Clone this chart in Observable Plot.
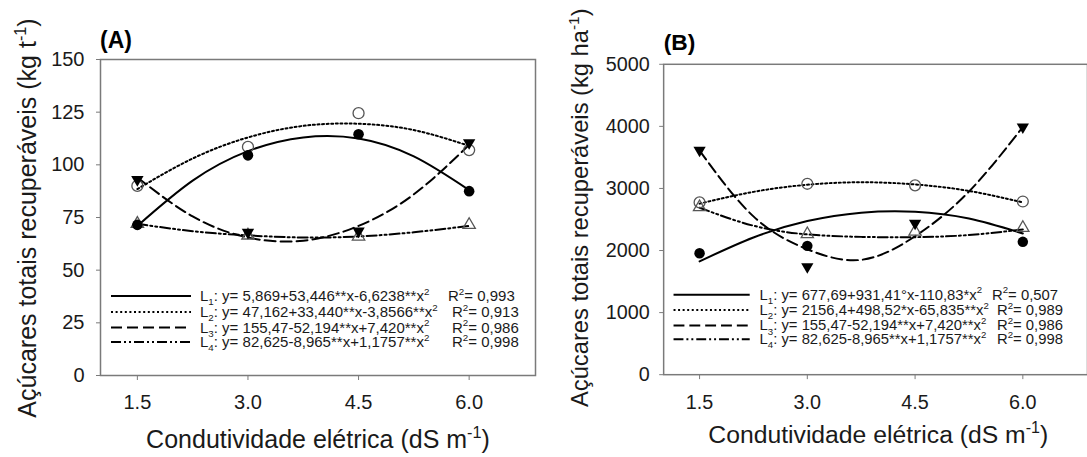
<!DOCTYPE html>
<html>
<head>
<meta charset="utf-8">
<script src="https://cdn.jsdelivr.net/npm/d3@7"></script>
<script src="https://cdn.jsdelivr.net/npm/@observablehq/plot@0.6"></script>
<style>
  html, body { margin: 0; padding: 0; background: #fff; overflow: hidden; }
  #wrap { position: relative; width: 1087px; height: 457px; overflow: hidden; }
  #pa, #pb { position: absolute; top: 0; }
  #pa { left: 0; }
  #pb { left: 540px; }
</style>
</head>
<body>
<div id="wrap"><div id="pa"></div><div id="pb"></div></div>
<script>
// ---------- DATA ----------
const concentrations = [1.5, 3.0, 4.5, 6.0];          // observed x (dS m-1)
const fitX = [1.5, 2.25, 3.0, 3.75, 4.5, 5.25, 6.0];  // x where fitted curves were read
const xTickLabels = ["1.5", "3.0", "4.5", "6.0"];

// Panel A (kg t-1)
const aTicks = [0, 25, 50, 75, 100, 125, 150];
const aL1 = [71.5, 104.5, 114.5, 87.5];
const aL2 = [90, 108.5, 124.5, 107];
const aL3 = [93, 68, 68.5, 110.5];
const aL4 = [72, 66.5, 66, 71.5];
const aFitL1 = [71, 92.5, 106.5, 113, 112.5, 104, 88];
const aFitL2 = [88.5, 103, 113, 118.5, 119.5, 116.5, 109];
const aFitL3 = [94, 75.5, 65.5, 64, 71, 86, 109.5];
const aFitL4 = [72, 68.5, 66.5, 65.5, 66, 68, 71];

// Panel B (kg ha-1)
const bTicks = [0, 1000, 2000, 3000, 4000, 5000];
const bL1 = [1955, 2075, null, 2140];
const bL2 = [2775, 3075, 3050, 2790];
const bL3 = [3615, 1740, 2440, 3990];
const bL4 = [2700, 2265, 2305, 2365];
const bFitL1 = [1825, 2210, 2475, 2610, 2625, 2515, 2275];
const bFitL2 = [2755, 2945, 3060, 3100, 3065, 2960, 2775];
const bFitL3 = [3610, 2550, 2020, 1850, 2230, 2950, 3990];
const bFitL4 = [2690, 2400, 2260, 2220, 2215, 2250, 2340];

// Legend texts
const legendNames = ["1", "2", "3", "4"];
const aEquations = [
  "y= 5,869+53,446**x-6,6238**x",
  "y= 47,162+33,440**x-3,8566**x",
  "y= 155,47-52,194**x+7,420**x",
  "y= 82,625-8,965**x+1,1757**x"
];
const aR2 = ["0,993", "0,913", "0,986", "0,998"];
const bEquations = [
  "y= 677,69+931,41°x-110,83*x",
  "y= 2156,4+498,52*x-65,835**x",
  "y= 155,47-52,194**x+7,420**x",
  "y= 82,625-8,965**x+1,1757**x"
];
const bR2 = ["0,507", "0,989", "0,986", "0,998"];

// ---------- STYLE ----------
const FONT = 'Arial, "Liberation Sans", Helvetica, sans-serif';
const TXT = "#1a1a1a";
const dashes = [null, "2,2.6", "11,5", "10,3,2,3,2,3"];

function rows(xs, ys, series) {
  return xs.map((x, i) => ({x, y: ys[i], s: series})).filter(d => d.y != null);
}

function rich(g, x, y, segs, size, extra = {}) {
  const t = g.append("text").attr("x", x).attr("y", y)
    .attr("font-size", size).attr("font-family", FONT).attr("fill", TXT)
    .attr("text-anchor", "start");
  for (const k in extra) t.attr(k, extra[k]);
  let shift = 0;
  for (const [s, kind] of segs) {
    const target = kind === "sup" ? -0.42 * size : kind === "sub" ? 0.28 * size : 0;
    t.append("tspan").attr("dy", target - shift)
      .attr("font-size", kind ? size * 0.65 : size).text(s);
    shift = target;
  }
  return t;
}

function panel(cfg) {
  const obs = cfg.obs, fits = cfg.fits;
  const marks = [
    Plot.frame({stroke: "#7a7a7a", strokeWidth: 1.5}),
    Plot.axisY({ticks: cfg.yTicks, tickSize: 4, tickPadding: cfg.yPad, stroke: "#7a7a7a",
      fill: TXT, fontSize: 20, label: null, tickFormat: d => String(d)}),
    Plot.axisX({ticks: concentrations, tickSize: 5, tickPadding: cfg.xPad, stroke: "#7a7a7a",
      fill: TXT, fontSize: 20, label: null, tickFormat: (d, i) => xTickLabels[i]})
  ];
  fits.forEach((f, k) => {
    marks.push(Plot.line(rows(fitX, f, k), {x: "x", y: "y", curve: "natural",
      stroke: "black", strokeWidth: 2, strokeDasharray: dashes[k]}));
  });
  // open symbols first (L2 circles, L4 triangles), then filled (L1 circles, L3 down-triangles)
  marks.push(Plot.dot(rows(concentrations, obs[1], 1), {x: "x", y: "y", r: 5.5, symbol: "circle",
    fill: "none", stroke: "#555", strokeWidth: 1.3}));
  marks.push(Plot.dot(rows(concentrations, obs[3], 3), {x: "x", y: "y", r: 4.6, symbol: "triangle",
    fill: "none", stroke: "#555", strokeWidth: 1.3}));
  marks.push(Plot.dot(rows(concentrations, obs[0], 0), {x: "x", y: "y", r: 5.3, symbol: "circle",
    fill: "black", stroke: "none"}));
  marks.push(Plot.dot(rows(concentrations, obs[2], 2), {x: "x", y: "y", r: 4.6, symbol: "triangle",
    rotate: 180, fill: "black", stroke: "none"}));

  const svg = Plot.plot({
    width: cfg.width, height: 457,
    marginLeft: cfg.ml, marginRight: cfg.mr, marginTop: cfg.mt, marginBottom: cfg.mb,
    x: {domain: [1, 6.9]},
    y: {domain: cfg.yDomain},
    style: {fontFamily: FONT, fontSize: "20px", background: "transparent", overflow: "visible"},
    marks
  });
  const g = d3.select(svg).append("g").attr("text-anchor", "start");
  // panel tag
  g.append("text").attr("x", cfg.tag[1]).attr("y", cfg.tag[2]).attr("font-family", FONT)
    .attr("text-anchor", "start")
    .attr("font-size", 23).attr("font-weight", "bold").attr("fill", "#000").text(cfg.tag[0]);
  // x title
  rich(g, cfg.xTitle[0], cfg.xTitle[1],
    [["Condutividade elétrica (dS m", ""], ["-1", "sup"], [")", ""]], 25,
    {"text-anchor": "middle"});
  // y title
  rich(g, 0, 0, cfg.yTitleSegs, cfg.yTitleSize,
    {"text-anchor": "middle", transform: `translate(${cfg.yTitle[0]},${cfg.yTitle[1]}) rotate(-90)`});
  // legend
  const L = cfg.legend;
  L.rowsY.forEach((ry, k) => {
    g.append("line").attr("x1", L.x1).attr("x2", L.x2).attr("y1", ry).attr("y2", ry)
      .attr("stroke", "black").attr("stroke-width", 2)
      .attr("stroke-dasharray", dashes[k]);
    rich(g, L.tx, ry + 5, [["L", ""], [legendNames[k], "sub"], [": " + L.eq[k], ""], ["2", "sup"]], 15);
    rich(g, L.rx[k], ry + 5, [["R", ""], ["2", "sup"], ["= " + L.r2[k], ""]], 15);
  });
  return svg;
}

document.getElementById("pa").appendChild(panel({
  width: 540, ml: 100, mr: 5, mt: 59, mb: 82,
  yDomain: [0, 150], yTicks: aTicks, yPad: 12, xPad: 14,
  obs: [aL1, aL2, aL3, aL4], fits: [aFitL1, aFitL2, aFitL3, aFitL4],
  tag: ["(A)", 100, 48],
  xTitle: [318, 448],
  yTitle: [36, 218], yTitleSize: 25,
  yTitleSegs: [["Açúcares totais recuperáveis (kg t", ""], ["-1", "sup"], [")", ""]],
  legend: {x1: 111, x2: 191, tx: 200, rowsY: [296, 312, 327.5, 342],
    eq: aEquations, r2: aR2, rx: [448, 452, 452, 452]}
}));

document.getElementById("pb").appendChild(panel({
  width: 553, ml: 124.5, mr: 0, mt: 64.5, mb: 78.7,
  yDomain: [0, 5000], yTicks: bTicks, yPad: 10, xPad: 15,
  obs: [bL1, bL2, bL3, bL4], fits: [bFitL1, bFitL2, bFitL3, bFitL4],
  tag: ["(B)", 125, 51],
  xTitle: [342, 448],
  yTitle: [49, 210], yTitleSize: 24,
  yTitleSegs: [["Açúcares totais recuperáveis (kg ha", ""], ["-1", "sup"], [")", ""]],
  legend: {x1: 135, x2: 212, tx: 222, rowsY: [298, 313.5, 329, 343],
    eq: bEquations, r2: bR2, rx: [457, 462, 462, 462]}
}));
</script>
</body>
</html>
